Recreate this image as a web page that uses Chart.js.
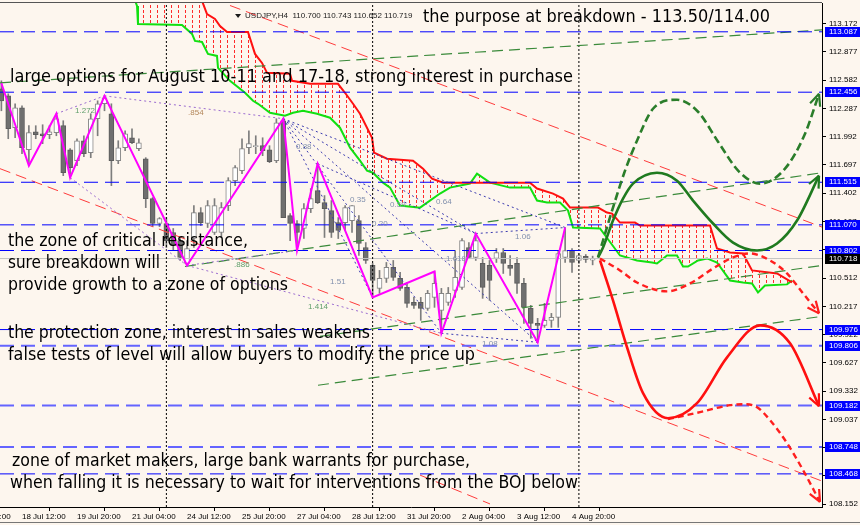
<!DOCTYPE html>
<html><head><meta charset="utf-8">
<script src="https://cdn.jsdelivr.net/npm/chart.js@4.4.1/dist/chart.umd.min.js"></script>
<style>html,body{margin:0;padding:0;background:#fdf6ee;}canvas{display:block;}</style>
</head><body>
<canvas id="c" width="860" height="525"></canvas>
<script>
// ================= DATA =================
const firstBar = 5; // bar index of the first visible candle
const opens = [112.491,112.418,112.085,112.293,111.855,112.043,112.022,112.012,112.033,112.106,111.855,111.741,111.949,111.824,112.179,112.335,112.231,111.741,111.876,111.980,111.866,111.761,111.344,111.084,111.084,110.990,110.906,110.667,110.927,111.198,111.084,110.990,110.990,111.271,111.532,111.636,111.876,111.887,111.897,111.855,111.741,112.158,111.167,111.084,111.032,111.240,111.428,111.303,111.219,111.094,111.094,111.115,111.115,110.833,110.646,110.406,110.510,110.625,110.510,110.416,110.260,110.260,110.197,110.312,110.176,110.260,110.385,110.416,110.833,110.729,110.667,110.646,110.719,110.781,110.646,110.667,110.458,110.197,110.041,110.020,110.072,110.103,110.729,110.802,110.698,110.740,110.700];
const highs = [112.575,112.439,112.335,112.314,112.106,112.106,112.116,112.106,112.231,112.158,111.866,111.970,112.001,112.231,112.366,112.418,112.335,111.949,112.053,112.074,111.970,111.772,111.355,111.146,111.146,111.032,110.927,110.906,111.271,111.250,111.324,111.344,111.303,111.563,111.688,111.970,112.053,112.001,111.980,111.897,112.179,112.179,111.188,111.115,111.292,111.449,111.709,111.376,111.324,111.146,111.271,111.271,111.167,110.885,110.667,110.594,110.677,110.698,110.573,110.468,110.312,110.312,110.385,110.583,110.406,110.416,110.802,110.927,110.885,110.979,110.729,110.698,110.823,110.823,110.750,110.729,110.510,110.229,110.093,110.250,110.145,110.802,111.042,110.823,110.771,110.760,110.743];
const lows = [112.262,111.970,111.980,111.814,111.688,111.970,111.918,111.970,112.001,111.584,111.563,111.688,111.782,111.772,112.001,112.262,111.480,111.709,111.845,111.918,111.845,111.250,111.052,111.052,110.833,110.802,110.698,110.646,110.833,111.063,111.042,110.969,110.938,111.219,111.480,111.605,111.814,111.814,111.793,111.720,111.720,111.146,110.906,110.802,110.927,111.198,111.292,110.938,110.938,110.927,111.011,110.990,110.750,110.667,110.312,110.354,110.468,110.489,110.385,110.208,110.197,110.072,110.176,110.208,109.937,110.229,110.312,110.395,110.719,110.698,110.302,110.281,110.677,110.562,110.541,110.354,110.041,109.884,109.843,109.999,109.999,109.999,110.677,110.573,110.667,110.677,110.652];
const closes = [112.366,112.074,112.293,111.876,112.033,112.012,112.001,112.043,112.179,111.615,111.668,111.949,111.814,112.179,112.335,112.397,111.741,111.876,112.022,111.928,111.928,111.344,111.084,111.136,110.906,110.854,110.729,110.823,111.198,111.094,111.271,111.271,111.250,111.532,111.668,111.866,111.918,111.897,111.845,111.730,112.137,111.146,111.084,110.990,111.240,111.344,111.303,111.240,110.990,111.011,111.250,111.271,110.875,110.698,110.489,110.510,110.625,110.521,110.406,110.250,110.229,110.197,110.354,110.458,110.354,110.354,110.521,110.906,110.729,110.906,110.416,110.489,110.781,110.667,110.614,110.458,110.208,110.041,110.020,110.072,110.103,110.771,110.802,110.677,110.750,110.708,110.719];

const xTickBars = [0,8,16,24,32,40,48,56,64,72,80,88];
const xTickLabels = ["17 Jul 04:00","18 Jul 12:00","19 Jul 20:00","21 Jul 04:00","24 Jul 12:00","25 Jul 20:00","27 Jul 04:00","28 Jul 12:00","31 Jul 20:00","2 Aug 04:00","3 Aug 12:00","4 Aug 20:00"];
const yTickValues = [113.172,112.877,112.582,112.287,111.992,111.697,111.402,111.107,110.812,110.512,110.217,109.922,109.627,109.332,109.037,108.742,108.447,108.152];

const levelLines = [113.087,112.456,111.515,111.070,110.802,109.976,109.806,109.182,108.748,108.468];
const currentPrice = 110.718;
const weekSeparators = [29,59,89];

const zigzag = [[5,112.55],[9,111.688],[13,112.231],[15,111.563],[20,112.418],[32,110.646],[46,112.179],[48,110.802],[51,111.709],[59,110.312],[68,110.583],[69,109.937],[74,110.979],[83,109.843],[87,111.042]];

const cloudRed = [[23.71,113.826],[33.75,113.492],[34.91,113.273],[36.07,113.221],[36.80,113.148],[37.82,113.086],[40.87,113.086],[41.89,112.856],[42.91,112.762],[43.64,112.658],[46.98,112.648],[47.27,112.575],[49.89,112.544],[53.96,112.544],[54.98,112.450],[56.15,112.335],[57.16,112.231],[58.91,111.980],[59.20,111.824],[61.09,111.761],[64.87,111.741],[66.33,111.657],[67.64,111.553],[69.24,111.511],[81.89,111.511],[82.91,111.449],[85.24,111.397],[86.69,111.344],[87.71,111.250],[91.78,111.250],[93.09,111.198],[93.82,111.188],[94.98,111.094],[97.16,111.094],[97.89,111.063],[108.07,111.063],[109.09,110.823],[110.98,110.781],[112.87,110.771],[114.18,110.594],[117.82,110.562],[120.0,110.468]];
const cloudGreen = [[23.42,113.618],[24.73,113.357],[24.87,113.169],[31.27,113.159],[32.73,113.065],[33.16,112.992],[34.18,112.981],[35.05,112.856],[36.36,112.835],[36.51,112.710],[38.25,112.575],[40.44,112.450],[41.60,112.366],[42.33,112.335],[44.07,112.241],[46.25,112.210],[47.42,112.241],[48.87,112.262],[50.91,112.231],[52.80,112.189],[54.25,112.085],[55.71,111.876],[57.16,111.741],[58.18,111.636],[59.05,111.615],[60.51,111.511],[61.53,111.459],[62.98,111.271],[65.89,111.250],[68.80,111.397],[70.25,111.459],[73.16,111.501],[74.18,111.605],[76.07,111.511],[78.98,111.459],[81.89,111.459],[82.91,111.324],[84.36,111.303],[86.25,111.303],[87.42,111.219],[88.15,111.042],[92.07,111.032],[94.98,110.750],[97.45,110.698],[99.64,110.677],[100.36,110.667],[101.82,110.750],[103.27,110.750],[104.15,110.635],[104.87,110.635],[106.33,110.698],[107.64,110.719],[109.09,110.677],[110.98,110.489],[112.87,110.468],[114.18,110.458],[115.05,110.364],[116.07,110.437],[119.27,110.448],[120.0,110.489]];

const channelRed = [
  [[38.25,113.362],[124.36,111.047]],
  [[4.8,111.657],[124.36,108.393]],
  [[65.9,108.455],[76.07,108.154]]
];
const channelGreen = [
  [[4.8,112.554],[124.36,113.107]],
  [[31.7,110.635],[124.36,111.615]],
  [[51.35,109.905],[124.36,110.646]],
  [[51.05,109.394],[124.36,110.114]]
];
const fibViolet = [
  [[13,112.231],[20,112.418]],
  [[20,112.418],[46,112.179]],
  [[15,111.563],[32,110.646]],
  [[32,110.646],[69,109.937]],
  [[32,110.646],[48,110.802]]
];
const fibBlue = [
  [[46,112.179],[83,109.843]],
  [[46,112.179],[74,110.979]],
  [[46,112.179],[69,109.937]],
  [[46,112.179],[59,110.312]],
  [[46,112.179],[87,111.042]],
  [[51,111.709],[74,110.979]],
  [[69,109.937],[83,109.843]],
  [[74,110.979],[87,111.042]]
];
const fibLabels = [
  ["1.272",15.71,112.262],[".854",32.15,112.241],["0.88",47.85,111.887],["0.35",55.71,111.334],
  ["0.20",58.91,111.084],["0.59",61.53,111.282],["0.64",68.22,111.313],[".886",38.84,110.656],
  ["1.51",52.8,110.479],["1.414",49.6,110.218],["1.618",69.67,110.719],["1.06",79.71,110.948],["1.08",74.91,109.822]
];

const forecastGreenDashed = [[91.78,110.729],[92.51,110.906],[93.96,111.250],[95.71,111.636],[97.45,111.949],[99.78,112.283],[103.27,112.377],[106.33,112.252],[109.24,111.939],[112.29,111.626],[115.35,111.501],[118.98,111.657],[121.89,112.022],[123.93,112.439]];
const forecastGreenSolid = [[91.78,110.729],[92.51,110.833],[93.96,111.115],[95.42,111.344],[96.87,111.501],[100.36,111.615],[103.27,111.532],[105.6,111.324],[108.51,111.084],[111.42,110.885],[114.91,110.802],[117.82,110.875],[120.73,111.115],[123.93,111.584]];
const forecastRedDashed = [[92.07,110.719],[94.98,110.594],[97.45,110.468],[101.82,110.375],[105.16,110.458],[108.51,110.614],[111.42,110.729],[113.89,110.771],[116.8,110.698],[119.27,110.562],[121.6,110.354],[123.93,110.145]];
const forecastRedSolid = [[92.07,110.698],[93.96,110.281],[96.0,109.791],[98.33,109.311],[101.96,109.050],[106.18,109.207],[110.55,109.686],[115.35,110.020],[119.71,109.832],[123.93,109.175]];
const forecastRedDashed2 = [[101.96,109.04],[106.62,109.113],[110.98,109.186],[113.16,109.196],[114.91,109.165],[116.8,109.03],[119.27,108.79],[121.6,108.508],[124.07,108.175]];

const notes = [
  ["the purpose at breakdown - 113.50/114.00",66.33,113.232],
  ["large options for August 10-11 and 17-18, strong interest in purchase",6.25,112.606],
  ["the zone of critical resistance,",5.96,110.896],
  ["sure breakdown will",5.96,110.667],
  ["provide growth to a zone of options",5.96,110.437],
  ["the protection zone, interest in sales weakens",5.96,109.937],
  ["false tests of level will allow buyers to modify the price up",5.96,109.707],
  ["zone of market makers, large bank warrants for purchase,",6.55,108.592],
  ["when falling it is necessary to wait for interventions from the BOJ below",6.25,108.362]
];
const headerText = ["USDJPY,H4  110.700 110.743 110.652 110.719",40.44,113.253];

// ================= STYLE / BUILD =================
const X_MIN = 4.8, X_MAX = 124.36, Y_MIN = 108.122, Y_MAX = 113.388;
const BG = '#fdf6ee';
const noteWidths = [347,563,240,152,280,362,467,458,568];
const lightLevels = new Set([109.806,109.182,108.748]);

const canvas = document.getElementById('c');
const ctx = canvas.getContext('2d');
const pc = document.createElement('canvas'); pc.width = 7; pc.height = 5;
const pctx = pc.getContext('2d'); pctx.fillStyle = '#ff2a2a'; pctx.fillRect(3,0,1,3);
const hatch = ctx.createPattern(pc,'repeat');

const pts = a => a.map(([x,y]) => ({x,y}));
const datasets = [];
const lineDs = (data, color, width, dash, order, extra) => Object.assign({
  type:'line', data: pts(data), borderColor: color, borderWidth: width, borderDash: dash || [],
  pointRadius: 0, fill: false, tension: 0, order: order
}, extra || {});

// cloud (green fills to red)
datasets.push(lineDs(cloudGreen, '#11e011', 2, [], 100, {fill: 1, backgroundColor: hatch}));
datasets.push(lineDs(cloudRed, '#ff1010', 2, [], 99));

// candles
const idx = opens.map((_,k) => firstBar + k);
datasets.push({type:'bar', data: idx.map((x,k) => ({x, y:[lows[k], highs[k]]})), backgroundColor:'#7d7d7d',
  borderWidth:0, barThickness:1, grouped:false, order:60, minBarLength:1});
datasets.push({type:'bar', data: idx.map((x,k) => ({x, y:[opens[k], closes[k]]})),
  backgroundColor: c => closes[c.dataIndex] >= opens[c.dataIndex] ? '#ffffff' : '#6f6f6f',
  borderColor: c => closes[c.dataIndex] >= opens[c.dataIndex] ? '#858585' : '#5c5c5c',
  borderWidth:1, borderSkipped:false, barThickness:5, grouped:false, order:55, minBarLength:1});

// week separators
weekSeparators.forEach(w => datasets.push(lineDs([[w,Y_MIN],[w,Y_MAX]], '#000', 1, [2,2], 50)));
// current price line
datasets.push(lineDs([[X_MIN,currentPrice],[X_MAX,currentPrice]], '#c4c4c4', 1, [], 50));
// level lines
levelLines.forEach(v => datasets.push(lineDs([[X_MIN,v],[X_MAX,v]], lightLevels.has(v) ? '#6464ff' : '#0000ff',
  lightLevels.has(v) ? 2 : 1, [14,7], 40)));
// channels
channelRed.forEach(s => datasets.push(lineDs(s, '#ff3b3b', 1, [11,6], 40)));
channelGreen.forEach(s => datasets.push(lineDs(s, '#3a8a3a', 1.2, [11,6], 40)));
// fib
fibViolet.forEach(s => datasets.push(lineDs(s, '#9b6bd0', 1, [2,3], 30)));
fibBlue.forEach(s => datasets.push(lineDs(s, '#3b3bb0', 1, [2,3], 30)));
// zigzag
datasets.push(lineDs(zigzag, '#ff00ff', 2, [], 10));
// forecasts
const fc = {cubicInterpolationMode:'monotone', arrow:true};
datasets.push(lineDs(forecastGreenDashed, '#2a7d2a', 2.6, [8,4], 5, fc));
datasets.push(lineDs(forecastGreenSolid, '#1f7a1f', 2.6, [], 5, fc));
datasets.push(lineDs(forecastRedDashed, '#ff1e1e', 2.4, [6,4], 5, fc));
datasets.push(lineDs(forecastRedSolid, '#ff1010', 2.6, [], 5, fc));
datasets.push(lineDs(forecastRedDashed2, '#ff1e1e', 2.4, [6,4], 5, fc));

const bgPlugin = {
  id:'bg',
  beforeDraw(chart){ const c = chart.ctx; c.save(); c.fillStyle = BG; c.fillRect(0,0,chart.width,chart.height); c.restore(); }
};

const overlay = {
  id:'overlay',
  afterDatasetsDraw(chart){
    const c = chart.ctx, xs = chart.scales.x, ys = chart.scales.y;
    // arrowheads
    chart.data.datasets.forEach((ds, di) => {
      if (!ds.arrow) return;
      const d = chart.getDatasetMeta(di).data;
      const last = d[d.length-1], prev = d[d.length-2];
      let fx = last.cp1x, fy = last.cp1y;
      if (fx === undefined || (Math.abs(fx-last.x) < 0.5 && Math.abs(fy-last.y) < 0.5)) { fx = prev.x; fy = prev.y; }
      const a = Math.atan2(last.y - fy, last.x - fx);
      c.save(); c.strokeStyle = ds.borderColor; c.lineWidth = 2.2; c.setLineDash([]);
      c.beginPath();
      [-1,1].forEach(s => { c.moveTo(last.x,last.y); c.lineTo(last.x - 13*Math.cos(a + s*0.42), last.y - 13*Math.sin(a + s*0.42)); });
      c.stroke(); c.restore();
    });
    c.save();
    // fib labels
    c.font = '8px "Liberation Sans", Arial'; c.textBaseline = 'middle'; c.textAlign = 'left';
    fibLabels.forEach(([t,i,p]) => {
      c.fillStyle = (t === '.854') ? '#b3875a' : (t === '1.272' || t === '.886' || t === '1.414') ? '#5f9e6a' : '#8190ad';
      c.fillText(t, xs.getPixelForValue(i), ys.getPixelForValue(p));
    });
    // notes
    c.fillStyle = '#000'; c.font = '17px "DejaVu Sans", sans-serif';
    notes.forEach(([t,i,p],k) => c.fillText(t, xs.getPixelForValue(i), ys.getPixelForValue(p), noteWidths[k]));
    // header
    const hx = xs.getPixelForValue(headerText[1]), hy = ys.getPixelForValue(headerText[2]);
    c.font = '8px "Liberation Sans", Arial'; c.fillStyle = '#1a1a1a';
    c.fillText(headerText[0], hx, hy);
    c.beginPath(); c.moveTo(hx-10, hy-2); c.lineTo(hx-4, hy-2); c.lineTo(hx-7, hy+2); c.closePath(); c.fill();
    c.restore();
  },
  afterDraw(chart){
    const c = chart.ctx, xs = chart.scales.x, ys = chart.scales.y, ca = chart.chartArea;
    c.save();
    c.strokeStyle = '#555'; c.lineWidth = 1;
    c.beginPath(); c.moveTo(0, ca.top - 0.5); c.lineTo(ca.right, ca.top - 0.5); c.stroke();
    c.strokeStyle = '#777'; c.beginPath(); c.moveTo(0, 522.5); c.lineTo(chart.width, 522.5); c.stroke();
    c.font = '8px "Liberation Sans", Arial'; c.textBaseline = 'middle'; c.textAlign = 'left';
    levelLines.forEach(v => {
      const py = Math.round(ys.getPixelForValue(v));
      c.fillStyle = '#0000ff'; c.fillRect(ca.right + 3, py - 5, 35, 10);
      c.fillStyle = '#fff'; c.fillText(v.toFixed(3), ca.right + 7, py);
    });
    const py = Math.round(ys.getPixelForValue(currentPrice));
    c.fillStyle = '#000'; c.fillRect(ca.right + 3, py - 5, 35, 10);
    c.fillStyle = '#fff'; c.fillText(currentPrice.toFixed(3), ca.right + 7, py);
    c.restore();
  }
};

const axisGrid = {display:true, drawOnChartArea:false, drawTicks:true, tickLength:4, color:'#000', tickColor:'#000'};
new Chart(ctx, {
  type:'line',
  data:{datasets},
  options:{
    responsive:false, animation:false, devicePixelRatio:1,
    layout:{padding:{top:3,left:0,right:0,bottom:0}},
    plugins:{legend:{display:false}, tooltip:{enabled:false}},
    scales:{
      x:{type:'linear', min:X_MIN, max:X_MAX, offset:false,
        afterBuildTicks: s => { s.ticks = xTickBars.map(v => ({value:v})); },
        afterFit: s => { s.height = 18; s.paddingLeft = 0; s.paddingRight = 0; },
        ticks:{autoSkip:false, maxRotation:0, minRotation:0, align:'start', padding:1, color:'#000',
          font:{family:'"Liberation Sans", Arial', size:8}, callback:(v,i) => xTickLabels[i]},
        grid:axisGrid, border:{display:true, color:'#000'}},
      y:{type:'linear', position:'right', min:Y_MIN, max:Y_MAX,
        afterBuildTicks: s => { s.ticks = yTickValues.map(v => ({value:v})); },
        afterFit: s => { s.width = 38; s.paddingTop = 0; s.paddingBottom = 0; },
        ticks:{autoSkip:false, padding:3, color:'#000', font:{family:'"Liberation Sans", Arial', size:8},
          callback: v => Number(v).toFixed(3)},
        grid:axisGrid, border:{display:true, color:'#000'}}
    }
  },
  plugins:[bgPlugin, overlay]
});
</script>
</body></html>
